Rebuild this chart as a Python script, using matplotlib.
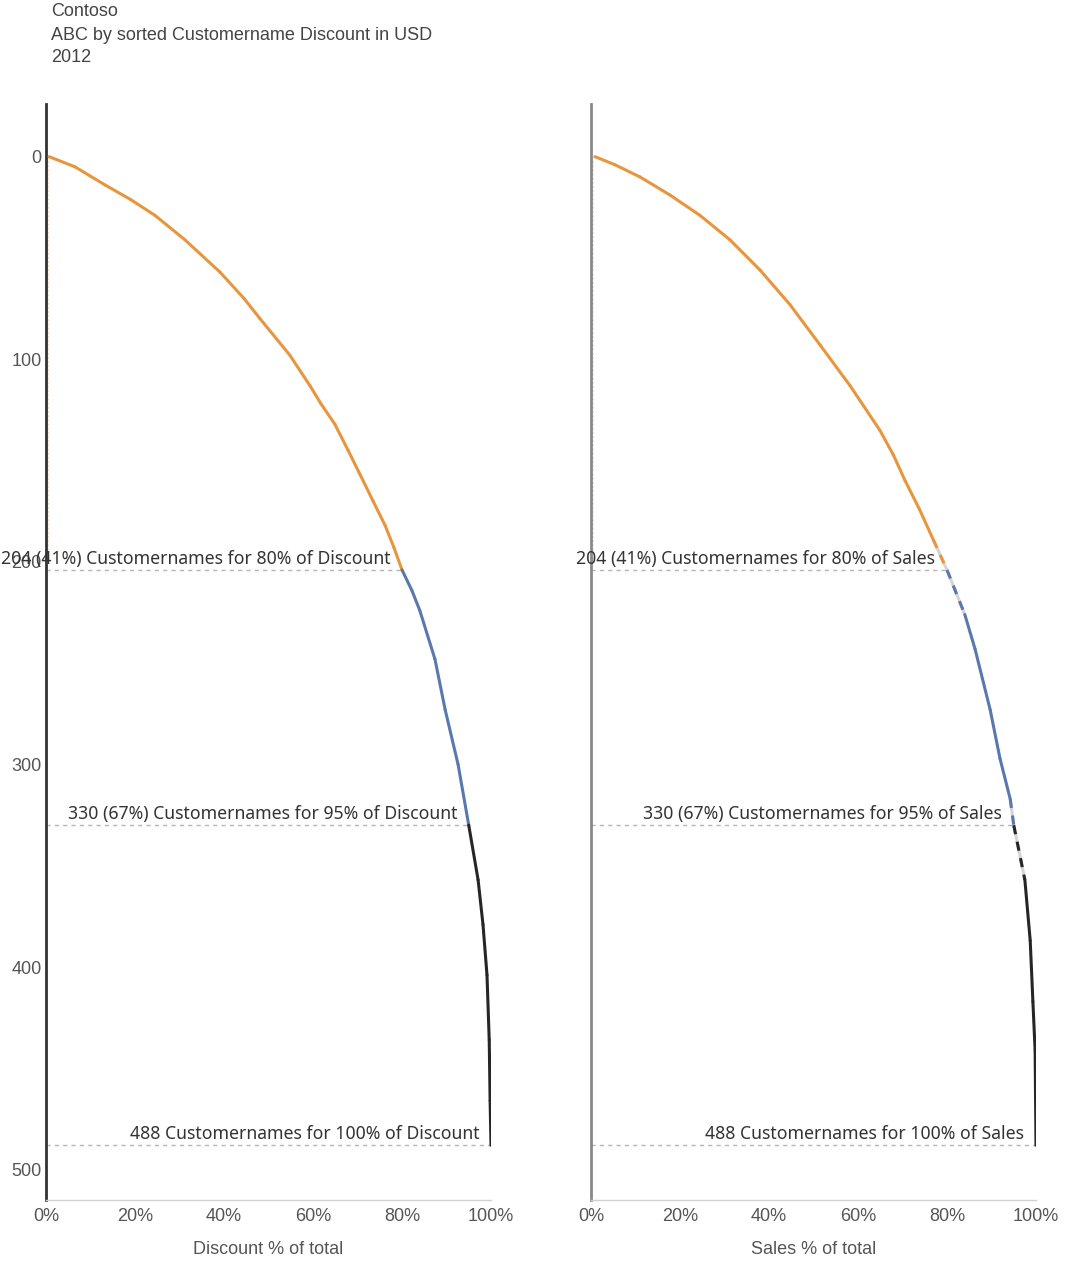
import matplotlib.pyplot as plt
from matplotlib.ticker import FuncFormatter

title_lines = ["Contoso", "ABC by sorted Customername Discount in USD", "2012"]

# Cumulative share (%) against customer rank, sorted by Discount
disc_pct = [0.7, 6.5, 13.3, 18.9, 24.5, 31.2, 39.1, 44.5, 48.1, 54.8, 59.3, 61.8, 64.9, 67.9,
            70.6, 73.5, 76.2, 78.2, 80.0, 82.2, 84.0, 87.4, 89.7, 92.6, 95.0, 97.1, 98.2,
            99.1, 99.6, 99.8, 100.0]
disc_rank = [0, 5, 14, 21, 29, 41, 57, 70, 80, 98, 113, 122, 132, 145,
             157, 170, 182, 193, 204, 214, 224, 248, 273, 300, 330, 357, 379,
             404, 436, 466, 488]

# Cumulative share (%) of Sales for the same ordering
sales_pct = [0.9, 5.4, 11.0, 17.8, 24.5, 31.2, 38.0, 44.7, 51.5, 58.2, 64.9, 67.9, 70.6, 73.8,
             76.9, 80.0, 84.0, 86.3, 89.7, 91.9, 94.2, 95.0, 97.5, 98.7, 99.3, 99.8, 100.0]
sales_rank = [0, 4, 10, 19, 29, 41, 56, 73, 93, 113, 135, 147, 160, 174,
              189, 204, 226, 243, 273, 297, 317, 330, 357, 387, 417, 441, 488]

# ABC class boundaries
class_pct = [80, 95, 100]
class_rank = [204, 330, 488]
class_share = [41, 67, None]

measures = ["Discount", "Sales"]
y_ticks = [0, 100, 200, 300, 400, 500]
x_ticks = [0, 20, 40, 60, 80, 100]

COL_A = "#E8963D"
COL_B = "#5878AE"
COL_C = "#262626"
GREY = "#555555"

W, H = 1068, 1264
fig = plt.figure(figsize=(W / 100, H / 100), dpi=100)

for i, line in enumerate(title_lines):
    fig.text(51 / W, 1 - (12 + 23 * i) / H, line, ha="left", va="center",
             fontsize=13, color="#444444", family="Liberation Sans")

ax_specs = [(46, disc_pct, disc_rank, "#333333", [], True),
            (591, sales_pct, sales_rank, "#8a8a8a", [(189, 226), (317, 357)], False)]


def seg_color(r0):
    if r0 < class_rank[0]:
        return COL_A
    if r0 < class_rank[1]:
        return COL_B
    return COL_C


for k, (x0px, pct, rank, spine_col, zones, show_y) in enumerate(ax_specs):
    ax = fig.add_axes([x0px / W, 1 - 1200 / H, 445 / W, 1096 / H])
    ax.set_xlim(0, 100)
    ax.set_ylim(515, -26)

    # faint trace along the axis
    ax.plot([0.4, 0.4], [0, 200], color=COL_A, lw=1.2, ls=(0, (1, 1.5)), alpha=0.45, zorder=2)

    for j in range(len(pct) - 1):
        xs = [pct[j], pct[j + 1]]
        ys = [rank[j], rank[j + 1]]
        col = seg_color(rank[j])
        in_zone = any(a <= rank[j] and rank[j + 1] <= b for a, b in zones)
        if in_zone:
            ax.plot(xs, ys, color="#d4d4d4", lw=2.2, solid_capstyle="butt", zorder=3)
            ax.plot(xs, ys, color=col, lw=2.2, ls=(0, (3, 2.5)), zorder=4)
        else:
            ax.plot(xs, ys, color=col, lw=2.2, solid_capstyle="round",
                    solid_joinstyle="round", zorder=4)

    m = measures[k]
    for p, r, s in zip(class_pct, class_rank, class_share):
        ax.plot([0, p], [r, r], color="#b5b5b5", lw=1, ls=(0, (3, 3)), zorder=1)
        if s is None:
            label = f"{r} Customernames for {p}% of {m}"
        else:
            label = f"{r} ({s}%) Customernames for {p}% of {m}"
        ax.text(p - 2.6, r - 1.2, label, ha="right", va="bottom", fontsize=12.7,
                color="#333333", family="Noto Sans", zorder=5)

    for side in ("top", "right"):
        ax.spines[side].set_visible(False)
    ax.spines["left"].set_color(spine_col)
    ax.spines["left"].set_linewidth(2)
    ax.spines["bottom"].set_color("#d0d0d0")
    ax.spines["bottom"].set_linewidth(1)

    ax.set_xticks(x_ticks)
    ax.xaxis.set_major_formatter(FuncFormatter(lambda v, _: f"{v:.0f}%"))
    ax.set_yticks(y_ticks)
    if not show_y:
        ax.set_yticklabels([])
    ax.tick_params(axis="both", length=0, labelsize=13, labelcolor=GREY)
    ax.tick_params(axis="x", pad=6)
    ax.tick_params(axis="y", pad=3)
    for t in ax.get_xticklabels() + ax.get_yticklabels():
        t.set_family("Liberation Sans")
    ax.set_xlabel(f"{m} % of total", fontsize=13, color=GREY, family="Liberation Sans", labelpad=11)
    ax.patch.set_alpha(0)

fig.savefig("out.png", dpi=100, facecolor="white")
